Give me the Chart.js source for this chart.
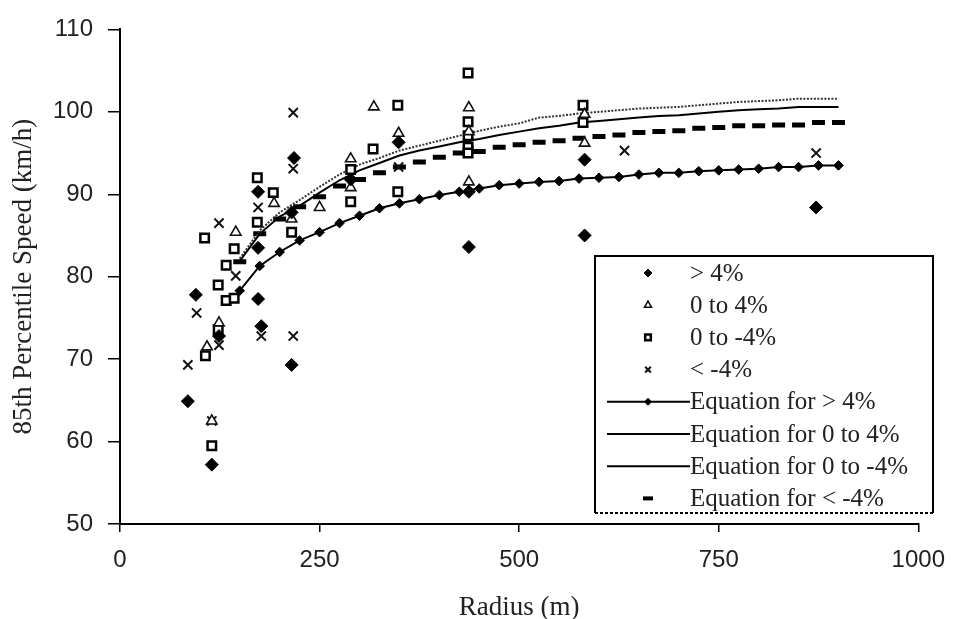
<!DOCTYPE html>
<html>
<head>
<meta charset="utf-8">
<title>85th Percentile Speed vs Radius</title>
<script src="https://cdn.jsdelivr.net/npm/chart.js@4.4.1/dist/chart.umd.min.js"></script>
<style>
  html, body { margin: 0; padding: 0; background: #fff; }
  #wrap { width: 959px; height: 619px; }
</style>
</head>
<body>
<div id="wrap">
  <canvas id="speedChart" width="959" height="619"></canvas>
</div>
<script>
const gt4Radius = [85, 95, 115, 124, 173, 177, 173, 173, 215, 215, 218, 289, 349, 437, 437, 582, 582, 872];
const gt4Speed  = [64.9, 77.8, 57.2, 72.8, 77.3, 74.0, 90.3, 83.5, 69.3, 87.8, 94.4, 91.8, 96.3, 90.3, 83.6, 94.2, 85.0, 88.4];

const up4Radius = [115, 109, 124, 145, 193, 215, 250, 289, 289, 318, 349, 437, 437, 437, 582, 582];
const up4Speed  = [62.5, 71.5, 74.4, 85.4, 88.9, 87.0, 88.4, 94.3, 90.8, 100.6, 97.4, 100.5, 97.6, 91.5, 99.7, 96.2];

const down4Radius = [107, 115, 123, 106, 123, 133, 133, 143, 143, 172, 172, 192, 215, 289, 289, 317, 348, 348, 436, 436, 436, 436, 436, 580, 580];
const down4Speed  = [70.4, 59.5, 73.6, 84.7, 79.0, 81.4, 77.1, 83.4, 77.4, 92.0, 86.6, 90.2, 85.4, 93.0, 89.1, 95.5, 100.8, 90.3, 104.7, 98.8, 97.1, 95.7, 95.0, 100.8, 98.7];

const lt4Radius = [85, 96, 115, 124, 124, 145, 173, 177, 217, 217, 217, 349, 437, 632, 872];
const lt4Speed  = [69.3, 75.6, 62.5, 71.7, 86.5, 80.1, 88.4, 72.8, 72.8, 99.9, 93.1, 93.3, 96.3, 95.3, 95.0];

// fitted curves
const eqRadius = [150, 175, 200, 225, 250, 275, 300, 325, 350, 375, 400, 425, 450, 475, 500, 525,
                  550, 575, 600, 625, 650, 675, 700, 725, 750, 775, 800, 825, 850, 875, 900];
const eqGt4   = [78.3, 81.3, 83.0, 84.4, 85.4, 86.5, 87.4, 88.3, 88.9, 89.4, 89.9, 90.3, 90.7, 91.1, 91.3, 91.5,
                 91.6, 91.9, 92.0, 92.1, 92.4, 92.6, 92.6, 92.8, 92.9, 93.0, 93.1, 93.3, 93.3, 93.5, 93.5];
const eqUp4   = [82.2, 85.6, 87.8, 89.3, 90.9, 92.4, 93.6, 94.4, 95.3, 95.9, 96.5, 97.1, 97.7, 98.2, 98.6, 99.3,
                 99.5, 99.8, 100.0, 100.2, 100.4, 100.5, 100.6, 100.8, 101.0, 101.2, 101.3, 101.4, 101.6, 101.6, 101.6];
const eqDown4 = [81.9, 85.2, 87.3, 88.6, 90.2, 91.7, 92.9, 93.8, 94.7, 95.3, 95.8, 96.3, 96.7, 97.2, 97.6, 98.0,
                 98.3, 98.7, 98.9, 99.1, 99.3, 99.5, 99.6, 99.8, 100.0, 100.2, 100.3, 100.4, 100.6, 100.6, 100.6];
const eqLt4   = [81.8, 85.2, 87.0, 88.5, 89.7, 91.0, 91.8, 92.6, 93.3, 93.9, 94.5, 95.0, 95.2, 95.7, 96.0, 96.3,
                 96.5, 96.8, 97.0, 97.2, 97.5, 97.6, 97.7, 98.0, 98.1, 98.3, 98.3, 98.4, 98.4, 98.7, 98.7];

const xTicks = [0, 250, 500, 750, 1000];
const yTicks = [50, 60, 70, 80, 90, 100, 110];

const toXY = (xs, ys) => xs.map((x, i) => ({ x: x, y: ys[i] }));

const datasets = [
  { label: '> 4%', data: toXY(gt4Radius, gt4Speed), showLine: false,
    pointStyle: 'rectRot', pointRadius: 6.5, backgroundColor: '#000', borderColor: '#000', borderWidth: 1,
    legendRadius: 4 },
  { label: '0 to 4%', data: toXY(up4Radius, up4Speed), showLine: false,
    pointStyle: 'triangle', pointRadius: 6, backgroundColor: '#fff', borderColor: '#111', borderWidth: 1.6,
    legendRadius: 4 },
  { label: '0 to -4%', data: toXY(down4Radius, down4Speed), showLine: false,
    pointStyle: 'rect', pointRadius: 6, backgroundColor: '#fff', borderColor: '#000', borderWidth: 2.5,
    legendRadius: 4 },
  { label: '< -4%', data: toXY(lt4Radius, lt4Speed), showLine: false,
    pointStyle: 'crossRot', pointRadius: 6.5, backgroundColor: '#000', borderColor: '#111', borderWidth: 2,
    legendRadius: 4 },
  { label: 'Equation for > 4%', data: toXY(eqRadius, eqGt4), showLine: true,
    borderColor: '#000', borderWidth: 2, pointStyle: 'rectRot', pointRadius: 4.8,
    backgroundColor: '#000', pointBorderWidth: 1, legendLine: true, legendRadius: 3.5 },
  { label: 'Equation for 0 to 4%', data: toXY(eqRadius, eqUp4), showLine: true,
    borderColor: '#333', borderWidth: 2, borderDash: [2, 1.5], pointRadius: 0,
    legendLine: true, legendRadius: 0 },
  { label: 'Equation for 0 to -4%', data: toXY(eqRadius, eqDown4), showLine: true,
    borderColor: '#000', borderWidth: 2, pointRadius: 0,
    legendLine: true, legendRadius: 0 },
  { label: 'Equation for < -4%', data: toXY(eqRadius, eqLt4), showLine: false,
    pointStyle: 'line', pointRadius: 6.5, borderColor: '#000', borderWidth: 5, backgroundColor: '#000',
    legendRadius: 5 }
];

// legend box inside the plot, drawn by hand
const boxLegend = {
  id: 'boxLegend',
  afterDraw: (chart) => {
    const ctx = chart.ctx;
    const left = 595, top = 256, right = 933, bottom = 513;
    const markX = 648, textX = 690, row0 = 273, rowStep = 32.2;
    ctx.save();
    ctx.fillStyle = '#fff';
    ctx.fillRect(left, top, right - left, bottom - top);
    ctx.strokeStyle = '#000';
    ctx.lineWidth = 2;
    ctx.beginPath();
    ctx.moveTo(left, bottom); ctx.lineTo(left, top); ctx.lineTo(right, top); ctx.lineTo(right, bottom);
    ctx.stroke();
    ctx.setLineDash([3, 2]);
    ctx.beginPath();
    ctx.moveTo(left, bottom); ctx.lineTo(right, bottom);
    ctx.stroke();
    ctx.setLineDash([]);

    ctx.font = '25px "Liberation Serif", "Times New Roman", serif';
    ctx.textBaseline = 'middle';
    ctx.textAlign = 'left';
    chart.data.datasets.forEach((ds, i) => {
      const y = row0 + i * rowStep;
      if (ds.legendLine) {
        // legend shows both middle curves as plain solid lines
        ctx.strokeStyle = '#000';
        ctx.lineWidth = 2;
        ctx.beginPath();
        ctx.moveTo(607, y); ctx.lineTo(690, y);
        ctx.stroke();
      }
      if (ds.legendRadius > 0) {
        ctx.fillStyle = ds.backgroundColor;
        ctx.strokeStyle = ds.borderColor;
        ctx.lineWidth = ds.pointStyle === 'line' ? 4 : (ds.pointBorderWidth || ds.borderWidth);
        Chart.helpers.drawPoint(ctx, { pointStyle: ds.pointStyle, radius: ds.legendRadius, rotation: 0,
          borderWidth: ctx.lineWidth }, markX, y);
      }
      ctx.fillStyle = '#222';
      ctx.fillText(ds.label, textX, y + 1);
    });
    ctx.restore();
  }
};

const tickFont = { family: '"Liberation Sans", Arial, sans-serif', size: 24 };
const titleFont = { family: '"Liberation Serif", "Times New Roman", serif', size: 27, lineHeight: 1 };

const config = {
  type: 'scatter',
  data: { datasets: datasets },
  options: {
    responsive: false,
    animation: false,
    layout: { padding: { top: 24, right: 35, left: 0, bottom: 0 } },
    plugins: {
      legend: { display: false },
      tooltip: { enabled: false }
    },
    scales: {
      x: {
        type: 'linear',
        min: 0, max: 1000,
        afterBuildTicks: (scale) => { scale.ticks = xTicks.map(v => ({ value: v })); },
        afterFit: (scale) => { scale.height = 95; },
        ticks: { font: tickFont, color: '#222', padding: 14, maxRotation: 0, callback: (v) => String(v) },
        grid: { drawOnChartArea: false, drawTicks: true, tickLength: 8, color: '#000', lineWidth: 1.5 },
        border: { display: true, color: '#000', width: 2 },
        title: { display: true, text: 'Radius (m)', font: titleFont, color: '#222', padding: { top: 0, bottom: -2 } }
      },
      y: {
        type: 'linear',
        min: 50, max: 110,
        afterBuildTicks: (scale) => { scale.ticks = yTicks.map(v => ({ value: v })); },
        afterFit: (scale) => { scale.width = 120; },
        ticks: { font: tickFont, color: '#222', padding: 15, callback: (v) => String(v) },
        grid: { drawOnChartArea: false, drawTicks: true, tickLength: 12, color: '#000', lineWidth: 1.5 },
        border: { display: true, color: '#000', width: 2 },
        title: { display: true, text: '85th Percentile Speed (km/h)', font: titleFont, color: '#222', padding: { top: 10, bottom: 0 } }
      }
    }
  },
  plugins: [boxLegend]
};

const speedChart = new Chart(document.getElementById('speedChart'), config);
</script>
</body>
</html>
